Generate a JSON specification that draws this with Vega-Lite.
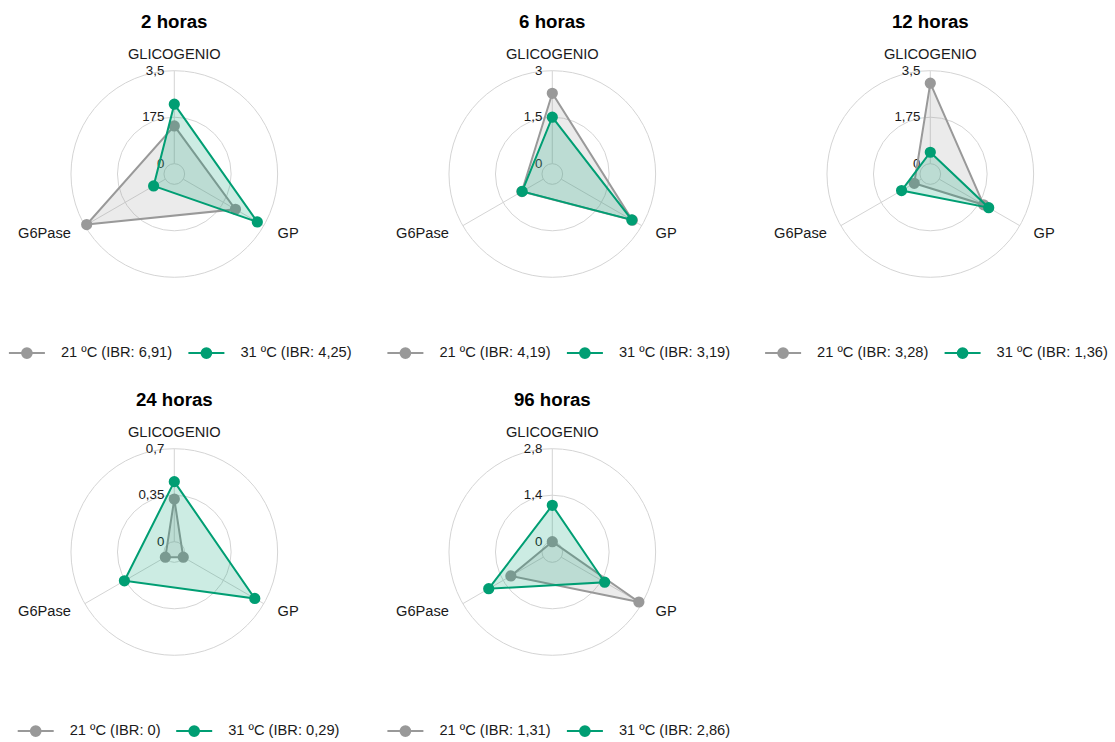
{
  "$schema": "https://vega.github.io/schema/vega-lite/v6.json",
  "background": "white",
  "padding": {"left": 7.3, "top": 13, "right": 0, "bottom": 0},
  "datasets": {
    "panels": [
      {"panel": "2 horas", "max": 3.5},
      {"panel": "6 horas", "max": 3},
      {"panel": "12 horas", "max": 3.5},
      {"panel": "24 horas", "max": 0.7},
      {"panel": "96 horas", "max": 2.8}
    ],
    "ticks": [
      {"panel": "2 horas", "level": 0, "label": "0"},
      {"panel": "2 horas", "level": 0.5, "label": "175"},
      {"panel": "2 horas", "level": 1, "label": "3,5"},
      {"panel": "6 horas", "level": 0, "label": "0"},
      {"panel": "6 horas", "level": 0.5, "label": "1,5"},
      {"panel": "6 horas", "level": 1, "label": "3"},
      {"panel": "12 horas", "level": 0, "label": "0"},
      {"panel": "12 horas", "level": 0.5, "label": "1,75"},
      {"panel": "12 horas", "level": 1, "label": "3,5"},
      {"panel": "24 horas", "level": 0, "label": "0"},
      {"panel": "24 horas", "level": 0.5, "label": "0,35"},
      {"panel": "24 horas", "level": 1, "label": "0,7"},
      {"panel": "96 horas", "level": 0, "label": "0"},
      {"panel": "96 horas", "level": 0.5, "label": "1,4"},
      {"panel": "96 horas", "level": 1, "label": "2,8"}
    ],
    "axes": [
      {"axis": "GLICOGENIO"},
      {"axis": "GP"},
      {"axis": "G6Pase"}
    ],
    "values": [
      {"panel": "2 horas", "serie": "21 ºC (IBR: 6,91)", "axis": "GLICOGENIO", "v": 1.42},
      {"panel": "2 horas", "serie": "21 ºC (IBR: 6,91)", "axis": "GP", "v": 2.27},
      {"panel": "2 horas", "serie": "21 ºC (IBR: 6,91)", "axis": "G6Pase", "v": 3.42},
      {"panel": "2 horas", "serie": "31 ºC (IBR: 4,25)", "axis": "GLICOGENIO", "v": 2.24},
      {"panel": "2 horas", "serie": "31 ºC (IBR: 4,25)", "axis": "GP", "v": 3.22},
      {"panel": "2 horas", "serie": "31 ºC (IBR: 4,25)", "axis": "G6Pase", "v": 0.51},
      {"panel": "6 horas", "serie": "21 ºC (IBR: 4,19)", "axis": "GLICOGENIO", "v": 2.27},
      {"panel": "6 horas", "serie": "21 ºC (IBR: 4,19)", "axis": "GP", "v": 2.65},
      {"panel": "6 horas", "serie": "21 ºC (IBR: 4,19)", "axis": "G6Pase", "v": 0.8},
      {"panel": "6 horas", "serie": "31 ºC (IBR: 3,19)", "axis": "GLICOGENIO", "v": 1.5},
      {"panel": "6 horas", "serie": "31 ºC (IBR: 3,19)", "axis": "GP", "v": 2.63},
      {"panel": "6 horas", "serie": "31 ºC (IBR: 3,19)", "axis": "G6Pase", "v": 0.79},
      {"panel": "12 horas", "serie": "21 ºC (IBR: 3,28)", "axis": "GLICOGENIO", "v": 3.03},
      {"panel": "12 horas", "serie": "21 ºC (IBR: 3,28)", "axis": "GP", "v": 1.93},
      {"panel": "12 horas", "serie": "21 ºC (IBR: 3,28)", "axis": "G6Pase", "v": 0.31},
      {"panel": "12 horas", "serie": "31 ºC (IBR: 1,36)", "axis": "GLICOGENIO", "v": 0.43},
      {"panel": "12 horas", "serie": "31 ºC (IBR: 1,36)", "axis": "GP", "v": 2.15},
      {"panel": "12 horas", "serie": "31 ºC (IBR: 1,36)", "axis": "G6Pase", "v": 0.86},
      {"panel": "24 horas", "serie": "21 ºC (IBR: 0)", "axis": "GLICOGENIO", "v": 0.321},
      {"panel": "24 horas", "serie": "21 ºC (IBR: 0)", "axis": "GP", "v": 0},
      {"panel": "24 horas", "serie": "21 ºC (IBR: 0)", "axis": "G6Pase", "v": 0},
      {"panel": "24 horas", "serie": "31 ºC (IBR: 0,29)", "axis": "GLICOGENIO", "v": 0.452},
      {"panel": "24 horas", "serie": "31 ºC (IBR: 0,29)", "axis": "GP", "v": 0.622},
      {"panel": "24 horas", "serie": "31 ºC (IBR: 0,29)", "axis": "G6Pase", "v": 0.356},
      {"panel": "96 horas", "serie": "21 ºC (IBR: 1,31)", "axis": "GLICOGENIO", "v": 0},
      {"panel": "96 horas", "serie": "21 ºC (IBR: 1,31)", "axis": "GP", "v": 2.7},
      {"panel": "96 horas", "serie": "21 ºC (IBR: 1,31)", "axis": "G6Pase", "v": 1.13},
      {"panel": "96 horas", "serie": "31 ºC (IBR: 2,86)", "axis": "GLICOGENIO", "v": 1.095},
      {"panel": "96 horas", "serie": "31 ºC (IBR: 2,86)", "axis": "GP", "v": 1.51},
      {"panel": "96 horas", "serie": "31 ºC (IBR: 2,86)", "axis": "G6Pase", "v": 1.9}
    ]
  },
  "columns": 3,
  "spacing": {"column": 112, "row": 112},
  "bounds": "flush",
  "resolve": {"scale": {"fill": "independent", "stroke": "independent"}, "legend": {"fill": "independent", "stroke": "independent"}},
  "concat": [
    {
      "title": "2 horas",
      "width": 266, "height": 266,
      "layer": [
        {"data": {"name": "ticks"}, "transform": [{"filter": "datum.panel=='2 horas'"}, {"calculate": "0.1+0.9*datum.level", "as": "rn"}],
         "mark": {"type": "arc", "filled": false, "stroke": "#d4d4d4", "strokeWidth": 1, "theta": 0, "theta2": 6.2832},
         "encoding": {"radius": {"field": "rn", "type": "quantitative", "stack": null, "scale": {"type": "linear", "domain": [0, 1.2876], "range": [0, 133], "nice": false}}}},
        {"data": {"name": "axes"}, "transform": [{"calculate": "datum.axis=='GLICOGENIO'?PI/2:(datum.axis=='GP'?-PI/6:7*PI/6)", "as": "a"}, {"calculate": "0.1*cos(datum.a)", "as": "x0"}, {"calculate": "0.1*sin(datum.a)", "as": "y0"}, {"calculate": "cos(datum.a)", "as": "x1"}, {"calculate": "sin(datum.a)", "as": "y1"}],
         "mark": {"type": "rule", "stroke": "#d4d4d4", "strokeWidth": 1},
         "encoding": {"x": {"field": "x0", "type": "quantitative", "scale": {"domain": [-1.2876, 1.2876], "nice": false, "zero": false}, "axis": null}, "y": {"field": "y0", "type": "quantitative", "scale": {"domain": [-1.2876, 1.2876], "nice": false, "zero": false}, "axis": null}, "x2": {"field": "x1"}, "y2": {"field": "y1"}}},
        {"data": {"name": "axes"}, "transform": [{"filter": "datum.axis=='GLICOGENIO'"}, {"calculate": "0", "as": "x"}, {"calculate": "1.152", "as": "y"}],
         "mark": {"type": "text", "align": "center", "baseline": "middle", "fontSize": 14.67, "color": "#1a1a1a"},
         "encoding": {"x": {"field": "x", "type": "quantitative"}, "y": {"field": "y", "type": "quantitative"}, "text": {"field": "axis"}}},
        {"data": {"name": "axes"}, "transform": [{"filter": "datum.axis=='GP'"}, {"calculate": "1.155*cos(-PI/6)", "as": "x"}, {"calculate": "1.155*sin(-PI/6)", "as": "y"}],
         "mark": {"type": "text", "align": "left", "baseline": "middle", "fontSize": 14.67, "color": "#1a1a1a"},
         "encoding": {"x": {"field": "x", "type": "quantitative"}, "y": {"field": "y", "type": "quantitative"}, "text": {"field": "axis"}}},
        {"data": {"name": "axes"}, "transform": [{"filter": "datum.axis=='G6Pase'"}, {"calculate": "1.155*cos(7*PI/6)", "as": "x"}, {"calculate": "1.155*sin(7*PI/6)", "as": "y"}],
         "mark": {"type": "text", "align": "right", "baseline": "middle", "fontSize": 14.67, "color": "#1a1a1a"},
         "encoding": {"x": {"field": "x", "type": "quantitative"}, "y": {"field": "y", "type": "quantitative"}, "text": {"field": "axis"}}},
        {"data": {"name": "ticks"}, "transform": [{"filter": "datum.panel=='2 horas'"}, {"calculate": "0.1+0.9*datum.level", "as": "rn"}, {"calculate": "0", "as": "x"}],
         "mark": {"type": "text", "align": "right", "baseline": "middle", "dx": -10, "fontSize": 13.3, "color": "#1a1a1a"},
         "encoding": {"x": {"field": "x", "type": "quantitative"}, "y": {"field": "rn", "type": "quantitative"}, "text": {"field": "label"}}},
        {"data": {"name": "values"}, "transform": [{"filter": "datum.panel=='2 horas' && indexof(datum.serie,'21')==0"}, {"lookup": "panel", "from": {"data": {"name": "panels"}, "key": "panel", "fields": ["max"]}}, {"calculate": "datum.axis=='GLICOGENIO'?0:(datum.axis=='GP'?1:2)", "as": "k"}, {"calculate": "datum.axis=='GLICOGENIO'?PI/2:(datum.axis=='GP'?-PI/6:7*PI/6)", "as": "a"}, {"calculate": "0.1+0.9*datum.v/datum.max", "as": "rn"}, {"calculate": "datum.rn*cos(datum.a)", "as": "x"}, {"calculate": "datum.rn*sin(datum.a)", "as": "y"}],
         "mark": {"type": "line", "interpolate": "linear-closed", "strokeWidth": 2, "fillOpacity": 0.2},
         "encoding": {"x": {"field": "x", "type": "quantitative"}, "y": {"field": "y", "type": "quantitative"}, "order": {"field": "k"}, "stroke": {"field": "serie", "type": "nominal", "scale": {"range": ["#999999", "#009E73"]}, "legend": {"title": null, "orient": "none", "legendX": -33.4, "legendY": 293, "direction": "horizontal"}}, "fill": {"field": "serie", "type": "nominal", "scale": {"range": ["#999999", "#009E73"]}, "legend": {"title": null, "orient": "none", "legendX": -33.4, "legendY": 293, "direction": "horizontal"}}}},
        {"data": {"name": "values"}, "transform": [{"filter": "datum.panel=='2 horas' && indexof(datum.serie,'21')==0"}, {"lookup": "panel", "from": {"data": {"name": "panels"}, "key": "panel", "fields": ["max"]}}, {"calculate": "datum.axis=='GLICOGENIO'?PI/2:(datum.axis=='GP'?-PI/6:7*PI/6)", "as": "a"}, {"calculate": "0.1+0.9*datum.v/datum.max", "as": "rn"}, {"calculate": "datum.rn*cos(datum.a)", "as": "x"}, {"calculate": "datum.rn*sin(datum.a)", "as": "y"}],
         "mark": {"type": "point", "filled": true, "size": 85, "opacity": 1},
         "encoding": {"x": {"field": "x", "type": "quantitative"}, "y": {"field": "y", "type": "quantitative"}, "stroke": {"field": "serie", "type": "nominal"}, "fill": {"field": "serie", "type": "nominal"}}},
        {"data": {"name": "values"}, "transform": [{"filter": "datum.panel=='2 horas' && indexof(datum.serie,'31')==0"}, {"lookup": "panel", "from": {"data": {"name": "panels"}, "key": "panel", "fields": ["max"]}}, {"calculate": "datum.axis=='GLICOGENIO'?0:(datum.axis=='GP'?1:2)", "as": "k"}, {"calculate": "datum.axis=='GLICOGENIO'?PI/2:(datum.axis=='GP'?-PI/6:7*PI/6)", "as": "a"}, {"calculate": "0.1+0.9*datum.v/datum.max", "as": "rn"}, {"calculate": "datum.rn*cos(datum.a)", "as": "x"}, {"calculate": "datum.rn*sin(datum.a)", "as": "y"}],
         "mark": {"type": "line", "interpolate": "linear-closed", "strokeWidth": 2, "fillOpacity": 0.2},
         "encoding": {"x": {"field": "x", "type": "quantitative"}, "y": {"field": "y", "type": "quantitative"}, "order": {"field": "k"}, "stroke": {"field": "serie", "type": "nominal"}, "fill": {"field": "serie", "type": "nominal"}}},
        {"data": {"name": "values"}, "transform": [{"filter": "datum.panel=='2 horas' && indexof(datum.serie,'31')==0"}, {"lookup": "panel", "from": {"data": {"name": "panels"}, "key": "panel", "fields": ["max"]}}, {"calculate": "datum.axis=='GLICOGENIO'?PI/2:(datum.axis=='GP'?-PI/6:7*PI/6)", "as": "a"}, {"calculate": "0.1+0.9*datum.v/datum.max", "as": "rn"}, {"calculate": "datum.rn*cos(datum.a)", "as": "x"}, {"calculate": "datum.rn*sin(datum.a)", "as": "y"}],
         "mark": {"type": "point", "filled": true, "size": 85, "opacity": 1},
         "encoding": {"x": {"field": "x", "type": "quantitative"}, "y": {"field": "y", "type": "quantitative"}, "stroke": {"field": "serie", "type": "nominal"}, "fill": {"field": "serie", "type": "nominal"}}}
      ]
    },
    {
      "title": "6 horas",
      "width": 266, "height": 266,
      "layer": [
        {"data": {"name": "ticks"}, "transform": [{"filter": "datum.panel=='6 horas'"}, {"calculate": "0.1+0.9*datum.level", "as": "rn"}],
         "mark": {"type": "arc", "filled": false, "stroke": "#d4d4d4", "strokeWidth": 1, "theta": 0, "theta2": 6.2832},
         "encoding": {"radius": {"field": "rn", "type": "quantitative", "stack": null, "scale": {"type": "linear", "domain": [0, 1.2876], "range": [0, 133], "nice": false}}}},
        {"data": {"name": "axes"}, "transform": [{"calculate": "datum.axis=='GLICOGENIO'?PI/2:(datum.axis=='GP'?-PI/6:7*PI/6)", "as": "a"}, {"calculate": "0.1*cos(datum.a)", "as": "x0"}, {"calculate": "0.1*sin(datum.a)", "as": "y0"}, {"calculate": "cos(datum.a)", "as": "x1"}, {"calculate": "sin(datum.a)", "as": "y1"}],
         "mark": {"type": "rule", "stroke": "#d4d4d4", "strokeWidth": 1},
         "encoding": {"x": {"field": "x0", "type": "quantitative", "scale": {"domain": [-1.2876, 1.2876], "nice": false, "zero": false}, "axis": null}, "y": {"field": "y0", "type": "quantitative", "scale": {"domain": [-1.2876, 1.2876], "nice": false, "zero": false}, "axis": null}, "x2": {"field": "x1"}, "y2": {"field": "y1"}}},
        {"data": {"name": "axes"}, "transform": [{"filter": "datum.axis=='GLICOGENIO'"}, {"calculate": "0", "as": "x"}, {"calculate": "1.152", "as": "y"}],
         "mark": {"type": "text", "align": "center", "baseline": "middle", "fontSize": 14.67, "color": "#1a1a1a"},
         "encoding": {"x": {"field": "x", "type": "quantitative"}, "y": {"field": "y", "type": "quantitative"}, "text": {"field": "axis"}}},
        {"data": {"name": "axes"}, "transform": [{"filter": "datum.axis=='GP'"}, {"calculate": "1.155*cos(-PI/6)", "as": "x"}, {"calculate": "1.155*sin(-PI/6)", "as": "y"}],
         "mark": {"type": "text", "align": "left", "baseline": "middle", "fontSize": 14.67, "color": "#1a1a1a"},
         "encoding": {"x": {"field": "x", "type": "quantitative"}, "y": {"field": "y", "type": "quantitative"}, "text": {"field": "axis"}}},
        {"data": {"name": "axes"}, "transform": [{"filter": "datum.axis=='G6Pase'"}, {"calculate": "1.155*cos(7*PI/6)", "as": "x"}, {"calculate": "1.155*sin(7*PI/6)", "as": "y"}],
         "mark": {"type": "text", "align": "right", "baseline": "middle", "fontSize": 14.67, "color": "#1a1a1a"},
         "encoding": {"x": {"field": "x", "type": "quantitative"}, "y": {"field": "y", "type": "quantitative"}, "text": {"field": "axis"}}},
        {"data": {"name": "ticks"}, "transform": [{"filter": "datum.panel=='6 horas'"}, {"calculate": "0.1+0.9*datum.level", "as": "rn"}, {"calculate": "0", "as": "x"}],
         "mark": {"type": "text", "align": "right", "baseline": "middle", "dx": -10, "fontSize": 13.3, "color": "#1a1a1a"},
         "encoding": {"x": {"field": "x", "type": "quantitative"}, "y": {"field": "rn", "type": "quantitative"}, "text": {"field": "label"}}},
        {"data": {"name": "values"}, "transform": [{"filter": "datum.panel=='6 horas' && indexof(datum.serie,'21')==0"}, {"lookup": "panel", "from": {"data": {"name": "panels"}, "key": "panel", "fields": ["max"]}}, {"calculate": "datum.axis=='GLICOGENIO'?0:(datum.axis=='GP'?1:2)", "as": "k"}, {"calculate": "datum.axis=='GLICOGENIO'?PI/2:(datum.axis=='GP'?-PI/6:7*PI/6)", "as": "a"}, {"calculate": "0.1+0.9*datum.v/datum.max", "as": "rn"}, {"calculate": "datum.rn*cos(datum.a)", "as": "x"}, {"calculate": "datum.rn*sin(datum.a)", "as": "y"}],
         "mark": {"type": "line", "interpolate": "linear-closed", "strokeWidth": 2, "fillOpacity": 0.2},
         "encoding": {"x": {"field": "x", "type": "quantitative"}, "y": {"field": "y", "type": "quantitative"}, "order": {"field": "k"}, "stroke": {"field": "serie", "type": "nominal", "scale": {"range": ["#999999", "#009E73"]}, "legend": {"title": null, "orient": "none", "legendX": -32.9, "legendY": 293, "direction": "horizontal"}}, "fill": {"field": "serie", "type": "nominal", "scale": {"range": ["#999999", "#009E73"]}, "legend": {"title": null, "orient": "none", "legendX": -32.9, "legendY": 293, "direction": "horizontal"}}}},
        {"data": {"name": "values"}, "transform": [{"filter": "datum.panel=='6 horas' && indexof(datum.serie,'21')==0"}, {"lookup": "panel", "from": {"data": {"name": "panels"}, "key": "panel", "fields": ["max"]}}, {"calculate": "datum.axis=='GLICOGENIO'?PI/2:(datum.axis=='GP'?-PI/6:7*PI/6)", "as": "a"}, {"calculate": "0.1+0.9*datum.v/datum.max", "as": "rn"}, {"calculate": "datum.rn*cos(datum.a)", "as": "x"}, {"calculate": "datum.rn*sin(datum.a)", "as": "y"}],
         "mark": {"type": "point", "filled": true, "size": 85, "opacity": 1},
         "encoding": {"x": {"field": "x", "type": "quantitative"}, "y": {"field": "y", "type": "quantitative"}, "stroke": {"field": "serie", "type": "nominal"}, "fill": {"field": "serie", "type": "nominal"}}},
        {"data": {"name": "values"}, "transform": [{"filter": "datum.panel=='6 horas' && indexof(datum.serie,'31')==0"}, {"lookup": "panel", "from": {"data": {"name": "panels"}, "key": "panel", "fields": ["max"]}}, {"calculate": "datum.axis=='GLICOGENIO'?0:(datum.axis=='GP'?1:2)", "as": "k"}, {"calculate": "datum.axis=='GLICOGENIO'?PI/2:(datum.axis=='GP'?-PI/6:7*PI/6)", "as": "a"}, {"calculate": "0.1+0.9*datum.v/datum.max", "as": "rn"}, {"calculate": "datum.rn*cos(datum.a)", "as": "x"}, {"calculate": "datum.rn*sin(datum.a)", "as": "y"}],
         "mark": {"type": "line", "interpolate": "linear-closed", "strokeWidth": 2, "fillOpacity": 0.2},
         "encoding": {"x": {"field": "x", "type": "quantitative"}, "y": {"field": "y", "type": "quantitative"}, "order": {"field": "k"}, "stroke": {"field": "serie", "type": "nominal"}, "fill": {"field": "serie", "type": "nominal"}}},
        {"data": {"name": "values"}, "transform": [{"filter": "datum.panel=='6 horas' && indexof(datum.serie,'31')==0"}, {"lookup": "panel", "from": {"data": {"name": "panels"}, "key": "panel", "fields": ["max"]}}, {"calculate": "datum.axis=='GLICOGENIO'?PI/2:(datum.axis=='GP'?-PI/6:7*PI/6)", "as": "a"}, {"calculate": "0.1+0.9*datum.v/datum.max", "as": "rn"}, {"calculate": "datum.rn*cos(datum.a)", "as": "x"}, {"calculate": "datum.rn*sin(datum.a)", "as": "y"}],
         "mark": {"type": "point", "filled": true, "size": 85, "opacity": 1},
         "encoding": {"x": {"field": "x", "type": "quantitative"}, "y": {"field": "y", "type": "quantitative"}, "stroke": {"field": "serie", "type": "nominal"}, "fill": {"field": "serie", "type": "nominal"}}}
      ]
    },
    {
      "title": "12 horas",
      "width": 266, "height": 266,
      "layer": [
        {"data": {"name": "ticks"}, "transform": [{"filter": "datum.panel=='12 horas'"}, {"calculate": "0.1+0.9*datum.level", "as": "rn"}],
         "mark": {"type": "arc", "filled": false, "stroke": "#d4d4d4", "strokeWidth": 1, "theta": 0, "theta2": 6.2832},
         "encoding": {"radius": {"field": "rn", "type": "quantitative", "stack": null, "scale": {"type": "linear", "domain": [0, 1.2876], "range": [0, 133], "nice": false}}}},
        {"data": {"name": "axes"}, "transform": [{"calculate": "datum.axis=='GLICOGENIO'?PI/2:(datum.axis=='GP'?-PI/6:7*PI/6)", "as": "a"}, {"calculate": "0.1*cos(datum.a)", "as": "x0"}, {"calculate": "0.1*sin(datum.a)", "as": "y0"}, {"calculate": "cos(datum.a)", "as": "x1"}, {"calculate": "sin(datum.a)", "as": "y1"}],
         "mark": {"type": "rule", "stroke": "#d4d4d4", "strokeWidth": 1},
         "encoding": {"x": {"field": "x0", "type": "quantitative", "scale": {"domain": [-1.2876, 1.2876], "nice": false, "zero": false}, "axis": null}, "y": {"field": "y0", "type": "quantitative", "scale": {"domain": [-1.2876, 1.2876], "nice": false, "zero": false}, "axis": null}, "x2": {"field": "x1"}, "y2": {"field": "y1"}}},
        {"data": {"name": "axes"}, "transform": [{"filter": "datum.axis=='GLICOGENIO'"}, {"calculate": "0", "as": "x"}, {"calculate": "1.152", "as": "y"}],
         "mark": {"type": "text", "align": "center", "baseline": "middle", "fontSize": 14.67, "color": "#1a1a1a"},
         "encoding": {"x": {"field": "x", "type": "quantitative"}, "y": {"field": "y", "type": "quantitative"}, "text": {"field": "axis"}}},
        {"data": {"name": "axes"}, "transform": [{"filter": "datum.axis=='GP'"}, {"calculate": "1.155*cos(-PI/6)", "as": "x"}, {"calculate": "1.155*sin(-PI/6)", "as": "y"}],
         "mark": {"type": "text", "align": "left", "baseline": "middle", "fontSize": 14.67, "color": "#1a1a1a"},
         "encoding": {"x": {"field": "x", "type": "quantitative"}, "y": {"field": "y", "type": "quantitative"}, "text": {"field": "axis"}}},
        {"data": {"name": "axes"}, "transform": [{"filter": "datum.axis=='G6Pase'"}, {"calculate": "1.155*cos(7*PI/6)", "as": "x"}, {"calculate": "1.155*sin(7*PI/6)", "as": "y"}],
         "mark": {"type": "text", "align": "right", "baseline": "middle", "fontSize": 14.67, "color": "#1a1a1a"},
         "encoding": {"x": {"field": "x", "type": "quantitative"}, "y": {"field": "y", "type": "quantitative"}, "text": {"field": "axis"}}},
        {"data": {"name": "ticks"}, "transform": [{"filter": "datum.panel=='12 horas'"}, {"calculate": "0.1+0.9*datum.level", "as": "rn"}, {"calculate": "0", "as": "x"}],
         "mark": {"type": "text", "align": "right", "baseline": "middle", "dx": -10, "fontSize": 13.3, "color": "#1a1a1a"},
         "encoding": {"x": {"field": "x", "type": "quantitative"}, "y": {"field": "rn", "type": "quantitative"}, "text": {"field": "label"}}},
        {"data": {"name": "values"}, "transform": [{"filter": "datum.panel=='12 horas' && indexof(datum.serie,'21')==0"}, {"lookup": "panel", "from": {"data": {"name": "panels"}, "key": "panel", "fields": ["max"]}}, {"calculate": "datum.axis=='GLICOGENIO'?0:(datum.axis=='GP'?1:2)", "as": "k"}, {"calculate": "datum.axis=='GLICOGENIO'?PI/2:(datum.axis=='GP'?-PI/6:7*PI/6)", "as": "a"}, {"calculate": "0.1+0.9*datum.v/datum.max", "as": "rn"}, {"calculate": "datum.rn*cos(datum.a)", "as": "x"}, {"calculate": "datum.rn*sin(datum.a)", "as": "y"}],
         "mark": {"type": "line", "interpolate": "linear-closed", "strokeWidth": 2, "fillOpacity": 0.2},
         "encoding": {"x": {"field": "x", "type": "quantitative"}, "y": {"field": "y", "type": "quantitative"}, "order": {"field": "k"}, "stroke": {"field": "serie", "type": "nominal", "scale": {"range": ["#999999", "#009E73"]}, "legend": {"title": null, "orient": "none", "legendX": -33.2, "legendY": 293, "direction": "horizontal"}}, "fill": {"field": "serie", "type": "nominal", "scale": {"range": ["#999999", "#009E73"]}, "legend": {"title": null, "orient": "none", "legendX": -33.2, "legendY": 293, "direction": "horizontal"}}}},
        {"data": {"name": "values"}, "transform": [{"filter": "datum.panel=='12 horas' && indexof(datum.serie,'21')==0"}, {"lookup": "panel", "from": {"data": {"name": "panels"}, "key": "panel", "fields": ["max"]}}, {"calculate": "datum.axis=='GLICOGENIO'?PI/2:(datum.axis=='GP'?-PI/6:7*PI/6)", "as": "a"}, {"calculate": "0.1+0.9*datum.v/datum.max", "as": "rn"}, {"calculate": "datum.rn*cos(datum.a)", "as": "x"}, {"calculate": "datum.rn*sin(datum.a)", "as": "y"}],
         "mark": {"type": "point", "filled": true, "size": 85, "opacity": 1},
         "encoding": {"x": {"field": "x", "type": "quantitative"}, "y": {"field": "y", "type": "quantitative"}, "stroke": {"field": "serie", "type": "nominal"}, "fill": {"field": "serie", "type": "nominal"}}},
        {"data": {"name": "values"}, "transform": [{"filter": "datum.panel=='12 horas' && indexof(datum.serie,'31')==0"}, {"lookup": "panel", "from": {"data": {"name": "panels"}, "key": "panel", "fields": ["max"]}}, {"calculate": "datum.axis=='GLICOGENIO'?0:(datum.axis=='GP'?1:2)", "as": "k"}, {"calculate": "datum.axis=='GLICOGENIO'?PI/2:(datum.axis=='GP'?-PI/6:7*PI/6)", "as": "a"}, {"calculate": "0.1+0.9*datum.v/datum.max", "as": "rn"}, {"calculate": "datum.rn*cos(datum.a)", "as": "x"}, {"calculate": "datum.rn*sin(datum.a)", "as": "y"}],
         "mark": {"type": "line", "interpolate": "linear-closed", "strokeWidth": 2, "fillOpacity": 0.2},
         "encoding": {"x": {"field": "x", "type": "quantitative"}, "y": {"field": "y", "type": "quantitative"}, "order": {"field": "k"}, "stroke": {"field": "serie", "type": "nominal"}, "fill": {"field": "serie", "type": "nominal"}}},
        {"data": {"name": "values"}, "transform": [{"filter": "datum.panel=='12 horas' && indexof(datum.serie,'31')==0"}, {"lookup": "panel", "from": {"data": {"name": "panels"}, "key": "panel", "fields": ["max"]}}, {"calculate": "datum.axis=='GLICOGENIO'?PI/2:(datum.axis=='GP'?-PI/6:7*PI/6)", "as": "a"}, {"calculate": "0.1+0.9*datum.v/datum.max", "as": "rn"}, {"calculate": "datum.rn*cos(datum.a)", "as": "x"}, {"calculate": "datum.rn*sin(datum.a)", "as": "y"}],
         "mark": {"type": "point", "filled": true, "size": 85, "opacity": 1},
         "encoding": {"x": {"field": "x", "type": "quantitative"}, "y": {"field": "y", "type": "quantitative"}, "stroke": {"field": "serie", "type": "nominal"}, "fill": {"field": "serie", "type": "nominal"}}}
      ]
    },
    {
      "title": "24 horas",
      "width": 266, "height": 266,
      "layer": [
        {"data": {"name": "ticks"}, "transform": [{"filter": "datum.panel=='24 horas'"}, {"calculate": "0.1+0.9*datum.level", "as": "rn"}],
         "mark": {"type": "arc", "filled": false, "stroke": "#d4d4d4", "strokeWidth": 1, "theta": 0, "theta2": 6.2832},
         "encoding": {"radius": {"field": "rn", "type": "quantitative", "stack": null, "scale": {"type": "linear", "domain": [0, 1.2876], "range": [0, 133], "nice": false}}}},
        {"data": {"name": "axes"}, "transform": [{"calculate": "datum.axis=='GLICOGENIO'?PI/2:(datum.axis=='GP'?-PI/6:7*PI/6)", "as": "a"}, {"calculate": "0.1*cos(datum.a)", "as": "x0"}, {"calculate": "0.1*sin(datum.a)", "as": "y0"}, {"calculate": "cos(datum.a)", "as": "x1"}, {"calculate": "sin(datum.a)", "as": "y1"}],
         "mark": {"type": "rule", "stroke": "#d4d4d4", "strokeWidth": 1},
         "encoding": {"x": {"field": "x0", "type": "quantitative", "scale": {"domain": [-1.2876, 1.2876], "nice": false, "zero": false}, "axis": null}, "y": {"field": "y0", "type": "quantitative", "scale": {"domain": [-1.2876, 1.2876], "nice": false, "zero": false}, "axis": null}, "x2": {"field": "x1"}, "y2": {"field": "y1"}}},
        {"data": {"name": "axes"}, "transform": [{"filter": "datum.axis=='GLICOGENIO'"}, {"calculate": "0", "as": "x"}, {"calculate": "1.152", "as": "y"}],
         "mark": {"type": "text", "align": "center", "baseline": "middle", "fontSize": 14.67, "color": "#1a1a1a"},
         "encoding": {"x": {"field": "x", "type": "quantitative"}, "y": {"field": "y", "type": "quantitative"}, "text": {"field": "axis"}}},
        {"data": {"name": "axes"}, "transform": [{"filter": "datum.axis=='GP'"}, {"calculate": "1.155*cos(-PI/6)", "as": "x"}, {"calculate": "1.155*sin(-PI/6)", "as": "y"}],
         "mark": {"type": "text", "align": "left", "baseline": "middle", "fontSize": 14.67, "color": "#1a1a1a"},
         "encoding": {"x": {"field": "x", "type": "quantitative"}, "y": {"field": "y", "type": "quantitative"}, "text": {"field": "axis"}}},
        {"data": {"name": "axes"}, "transform": [{"filter": "datum.axis=='G6Pase'"}, {"calculate": "1.155*cos(7*PI/6)", "as": "x"}, {"calculate": "1.155*sin(7*PI/6)", "as": "y"}],
         "mark": {"type": "text", "align": "right", "baseline": "middle", "fontSize": 14.67, "color": "#1a1a1a"},
         "encoding": {"x": {"field": "x", "type": "quantitative"}, "y": {"field": "y", "type": "quantitative"}, "text": {"field": "axis"}}},
        {"data": {"name": "ticks"}, "transform": [{"filter": "datum.panel=='24 horas'"}, {"calculate": "0.1+0.9*datum.level", "as": "rn"}, {"calculate": "0", "as": "x"}],
         "mark": {"type": "text", "align": "right", "baseline": "middle", "dx": -10, "fontSize": 13.3, "color": "#1a1a1a"},
         "encoding": {"x": {"field": "x", "type": "quantitative"}, "y": {"field": "rn", "type": "quantitative"}, "text": {"field": "label"}}},
        {"data": {"name": "values"}, "transform": [{"filter": "datum.panel=='24 horas' && indexof(datum.serie,'21')==0"}, {"lookup": "panel", "from": {"data": {"name": "panels"}, "key": "panel", "fields": ["max"]}}, {"calculate": "datum.axis=='GLICOGENIO'?0:(datum.axis=='GP'?1:2)", "as": "k"}, {"calculate": "datum.axis=='GLICOGENIO'?PI/2:(datum.axis=='GP'?-PI/6:7*PI/6)", "as": "a"}, {"calculate": "0.1+0.9*datum.v/datum.max", "as": "rn"}, {"calculate": "datum.rn*cos(datum.a)", "as": "x"}, {"calculate": "datum.rn*sin(datum.a)", "as": "y"}],
         "mark": {"type": "line", "interpolate": "linear-closed", "strokeWidth": 2, "fillOpacity": 0.2},
         "encoding": {"x": {"field": "x", "type": "quantitative"}, "y": {"field": "y", "type": "quantitative"}, "order": {"field": "k"}, "stroke": {"field": "serie", "type": "nominal", "scale": {"range": ["#999999", "#009E73"]}, "legend": {"title": null, "orient": "none", "legendX": -24.6, "legendY": 293, "direction": "horizontal"}}, "fill": {"field": "serie", "type": "nominal", "scale": {"range": ["#999999", "#009E73"]}, "legend": {"title": null, "orient": "none", "legendX": -24.6, "legendY": 293, "direction": "horizontal"}}}},
        {"data": {"name": "values"}, "transform": [{"filter": "datum.panel=='24 horas' && indexof(datum.serie,'21')==0"}, {"lookup": "panel", "from": {"data": {"name": "panels"}, "key": "panel", "fields": ["max"]}}, {"calculate": "datum.axis=='GLICOGENIO'?PI/2:(datum.axis=='GP'?-PI/6:7*PI/6)", "as": "a"}, {"calculate": "0.1+0.9*datum.v/datum.max", "as": "rn"}, {"calculate": "datum.rn*cos(datum.a)", "as": "x"}, {"calculate": "datum.rn*sin(datum.a)", "as": "y"}],
         "mark": {"type": "point", "filled": true, "size": 85, "opacity": 1},
         "encoding": {"x": {"field": "x", "type": "quantitative"}, "y": {"field": "y", "type": "quantitative"}, "stroke": {"field": "serie", "type": "nominal"}, "fill": {"field": "serie", "type": "nominal"}}},
        {"data": {"name": "values"}, "transform": [{"filter": "datum.panel=='24 horas' && indexof(datum.serie,'31')==0"}, {"lookup": "panel", "from": {"data": {"name": "panels"}, "key": "panel", "fields": ["max"]}}, {"calculate": "datum.axis=='GLICOGENIO'?0:(datum.axis=='GP'?1:2)", "as": "k"}, {"calculate": "datum.axis=='GLICOGENIO'?PI/2:(datum.axis=='GP'?-PI/6:7*PI/6)", "as": "a"}, {"calculate": "0.1+0.9*datum.v/datum.max", "as": "rn"}, {"calculate": "datum.rn*cos(datum.a)", "as": "x"}, {"calculate": "datum.rn*sin(datum.a)", "as": "y"}],
         "mark": {"type": "line", "interpolate": "linear-closed", "strokeWidth": 2, "fillOpacity": 0.2},
         "encoding": {"x": {"field": "x", "type": "quantitative"}, "y": {"field": "y", "type": "quantitative"}, "order": {"field": "k"}, "stroke": {"field": "serie", "type": "nominal"}, "fill": {"field": "serie", "type": "nominal"}}},
        {"data": {"name": "values"}, "transform": [{"filter": "datum.panel=='24 horas' && indexof(datum.serie,'31')==0"}, {"lookup": "panel", "from": {"data": {"name": "panels"}, "key": "panel", "fields": ["max"]}}, {"calculate": "datum.axis=='GLICOGENIO'?PI/2:(datum.axis=='GP'?-PI/6:7*PI/6)", "as": "a"}, {"calculate": "0.1+0.9*datum.v/datum.max", "as": "rn"}, {"calculate": "datum.rn*cos(datum.a)", "as": "x"}, {"calculate": "datum.rn*sin(datum.a)", "as": "y"}],
         "mark": {"type": "point", "filled": true, "size": 85, "opacity": 1},
         "encoding": {"x": {"field": "x", "type": "quantitative"}, "y": {"field": "y", "type": "quantitative"}, "stroke": {"field": "serie", "type": "nominal"}, "fill": {"field": "serie", "type": "nominal"}}}
      ]
    },
    {
      "title": "96 horas",
      "width": 266, "height": 266,
      "layer": [
        {"data": {"name": "ticks"}, "transform": [{"filter": "datum.panel=='96 horas'"}, {"calculate": "0.1+0.9*datum.level", "as": "rn"}],
         "mark": {"type": "arc", "filled": false, "stroke": "#d4d4d4", "strokeWidth": 1, "theta": 0, "theta2": 6.2832},
         "encoding": {"radius": {"field": "rn", "type": "quantitative", "stack": null, "scale": {"type": "linear", "domain": [0, 1.2876], "range": [0, 133], "nice": false}}}},
        {"data": {"name": "axes"}, "transform": [{"calculate": "datum.axis=='GLICOGENIO'?PI/2:(datum.axis=='GP'?-PI/6:7*PI/6)", "as": "a"}, {"calculate": "0.1*cos(datum.a)", "as": "x0"}, {"calculate": "0.1*sin(datum.a)", "as": "y0"}, {"calculate": "cos(datum.a)", "as": "x1"}, {"calculate": "sin(datum.a)", "as": "y1"}],
         "mark": {"type": "rule", "stroke": "#d4d4d4", "strokeWidth": 1},
         "encoding": {"x": {"field": "x0", "type": "quantitative", "scale": {"domain": [-1.2876, 1.2876], "nice": false, "zero": false}, "axis": null}, "y": {"field": "y0", "type": "quantitative", "scale": {"domain": [-1.2876, 1.2876], "nice": false, "zero": false}, "axis": null}, "x2": {"field": "x1"}, "y2": {"field": "y1"}}},
        {"data": {"name": "axes"}, "transform": [{"filter": "datum.axis=='GLICOGENIO'"}, {"calculate": "0", "as": "x"}, {"calculate": "1.152", "as": "y"}],
         "mark": {"type": "text", "align": "center", "baseline": "middle", "fontSize": 14.67, "color": "#1a1a1a"},
         "encoding": {"x": {"field": "x", "type": "quantitative"}, "y": {"field": "y", "type": "quantitative"}, "text": {"field": "axis"}}},
        {"data": {"name": "axes"}, "transform": [{"filter": "datum.axis=='GP'"}, {"calculate": "1.155*cos(-PI/6)", "as": "x"}, {"calculate": "1.155*sin(-PI/6)", "as": "y"}],
         "mark": {"type": "text", "align": "left", "baseline": "middle", "fontSize": 14.67, "color": "#1a1a1a"},
         "encoding": {"x": {"field": "x", "type": "quantitative"}, "y": {"field": "y", "type": "quantitative"}, "text": {"field": "axis"}}},
        {"data": {"name": "axes"}, "transform": [{"filter": "datum.axis=='G6Pase'"}, {"calculate": "1.155*cos(7*PI/6)", "as": "x"}, {"calculate": "1.155*sin(7*PI/6)", "as": "y"}],
         "mark": {"type": "text", "align": "right", "baseline": "middle", "fontSize": 14.67, "color": "#1a1a1a"},
         "encoding": {"x": {"field": "x", "type": "quantitative"}, "y": {"field": "y", "type": "quantitative"}, "text": {"field": "axis"}}},
        {"data": {"name": "ticks"}, "transform": [{"filter": "datum.panel=='96 horas'"}, {"calculate": "0.1+0.9*datum.level", "as": "rn"}, {"calculate": "0", "as": "x"}],
         "mark": {"type": "text", "align": "right", "baseline": "middle", "dx": -10, "fontSize": 13.3, "color": "#1a1a1a"},
         "encoding": {"x": {"field": "x", "type": "quantitative"}, "y": {"field": "rn", "type": "quantitative"}, "text": {"field": "label"}}},
        {"data": {"name": "values"}, "transform": [{"filter": "datum.panel=='96 horas' && indexof(datum.serie,'21')==0"}, {"lookup": "panel", "from": {"data": {"name": "panels"}, "key": "panel", "fields": ["max"]}}, {"calculate": "datum.axis=='GLICOGENIO'?0:(datum.axis=='GP'?1:2)", "as": "k"}, {"calculate": "datum.axis=='GLICOGENIO'?PI/2:(datum.axis=='GP'?-PI/6:7*PI/6)", "as": "a"}, {"calculate": "0.1+0.9*datum.v/datum.max", "as": "rn"}, {"calculate": "datum.rn*cos(datum.a)", "as": "x"}, {"calculate": "datum.rn*sin(datum.a)", "as": "y"}],
         "mark": {"type": "line", "interpolate": "linear-closed", "strokeWidth": 2, "fillOpacity": 0.2},
         "encoding": {"x": {"field": "x", "type": "quantitative"}, "y": {"field": "y", "type": "quantitative"}, "order": {"field": "k"}, "stroke": {"field": "serie", "type": "nominal", "scale": {"range": ["#999999", "#009E73"]}, "legend": {"title": null, "orient": "none", "legendX": -32.9, "legendY": 293, "direction": "horizontal"}}, "fill": {"field": "serie", "type": "nominal", "scale": {"range": ["#999999", "#009E73"]}, "legend": {"title": null, "orient": "none", "legendX": -32.9, "legendY": 293, "direction": "horizontal"}}}},
        {"data": {"name": "values"}, "transform": [{"filter": "datum.panel=='96 horas' && indexof(datum.serie,'21')==0"}, {"lookup": "panel", "from": {"data": {"name": "panels"}, "key": "panel", "fields": ["max"]}}, {"calculate": "datum.axis=='GLICOGENIO'?PI/2:(datum.axis=='GP'?-PI/6:7*PI/6)", "as": "a"}, {"calculate": "0.1+0.9*datum.v/datum.max", "as": "rn"}, {"calculate": "datum.rn*cos(datum.a)", "as": "x"}, {"calculate": "datum.rn*sin(datum.a)", "as": "y"}],
         "mark": {"type": "point", "filled": true, "size": 85, "opacity": 1},
         "encoding": {"x": {"field": "x", "type": "quantitative"}, "y": {"field": "y", "type": "quantitative"}, "stroke": {"field": "serie", "type": "nominal"}, "fill": {"field": "serie", "type": "nominal"}}},
        {"data": {"name": "values"}, "transform": [{"filter": "datum.panel=='96 horas' && indexof(datum.serie,'31')==0"}, {"lookup": "panel", "from": {"data": {"name": "panels"}, "key": "panel", "fields": ["max"]}}, {"calculate": "datum.axis=='GLICOGENIO'?0:(datum.axis=='GP'?1:2)", "as": "k"}, {"calculate": "datum.axis=='GLICOGENIO'?PI/2:(datum.axis=='GP'?-PI/6:7*PI/6)", "as": "a"}, {"calculate": "0.1+0.9*datum.v/datum.max", "as": "rn"}, {"calculate": "datum.rn*cos(datum.a)", "as": "x"}, {"calculate": "datum.rn*sin(datum.a)", "as": "y"}],
         "mark": {"type": "line", "interpolate": "linear-closed", "strokeWidth": 2, "fillOpacity": 0.2},
         "encoding": {"x": {"field": "x", "type": "quantitative"}, "y": {"field": "y", "type": "quantitative"}, "order": {"field": "k"}, "stroke": {"field": "serie", "type": "nominal"}, "fill": {"field": "serie", "type": "nominal"}}},
        {"data": {"name": "values"}, "transform": [{"filter": "datum.panel=='96 horas' && indexof(datum.serie,'31')==0"}, {"lookup": "panel", "from": {"data": {"name": "panels"}, "key": "panel", "fields": ["max"]}}, {"calculate": "datum.axis=='GLICOGENIO'?PI/2:(datum.axis=='GP'?-PI/6:7*PI/6)", "as": "a"}, {"calculate": "0.1+0.9*datum.v/datum.max", "as": "rn"}, {"calculate": "datum.rn*cos(datum.a)", "as": "x"}, {"calculate": "datum.rn*sin(datum.a)", "as": "y"}],
         "mark": {"type": "point", "filled": true, "size": 85, "opacity": 1},
         "encoding": {"x": {"field": "x", "type": "quantitative"}, "y": {"field": "y", "type": "quantitative"}, "stroke": {"field": "serie", "type": "nominal"}, "fill": {"field": "serie", "type": "nominal"}}}
      ]
    }
  ],
  "config": {
    "font": "Liberation Sans",
    "view": {"stroke": null},
    "title": {"fontSize": 18.67, "fontWeight": "bold", "color": "#000000", "offset": 9, "anchor": "middle"},
    "legend": {"symbolType": "M-1,0H1M0.27,0A0.27,0.27,0,1,1,-0.27,0A0.27,0.27,0,1,1,0.27,0", "symbolSize": 1296, "symbolStrokeWidth": 2, "symbolOpacity": 1, "labelFontSize": 14.67, "labelColor": "#1a1a1a", "labelOffset": 15, "columnPadding": 11.5}
  }
}
